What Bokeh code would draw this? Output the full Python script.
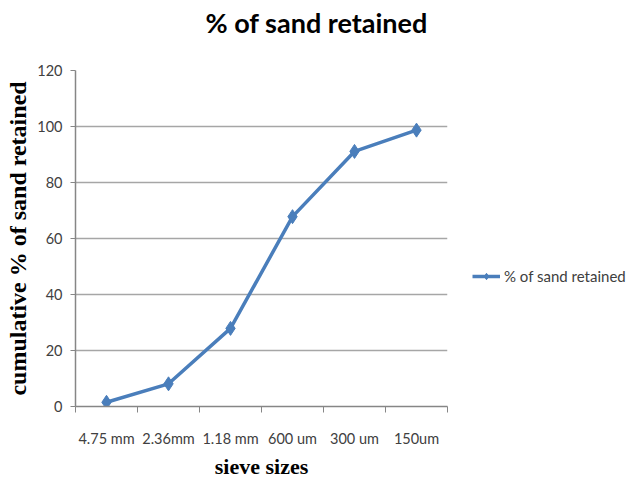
from bokeh.plotting import figure
from bokeh.models import ColumnDataSource, FixedTicker, Legend, LegendItem, Range1d, Title
from bokeh.embed import file_html
from bokeh.resources import INLINE

sieve_sizes = ["4.75 mm", "2.36mm", "1.18 mm", "600 um", "300 um", "150um"]
retained = [1.5, 8.1, 27.9, 67.8, 91.1, 98.7]
y_ticks = [0, 20, 40, 60, 80, 100, 120]

xs = [i + 0.5 for i in range(len(sieve_sizes))]
src = ColumnDataSource(data=dict(x=xs, y=retained, label=sieve_sizes))

p = figure(frame_width=372, frame_height=336, output_backend="svg", toolbar_location=None,
           x_range=Range1d(0, len(sieve_sizes)), y_range=Range1d(0, 120),
           min_border_left=75, min_border_right=0, min_border_top=70, min_border_bottom=74)
p.title.text = ""

# spacer between frame and title, then the title itself (stacked outward)
spacer = Title(text=" ", text_font_size="1px", standoff=27)
main_title = Title(text="% of sand retained", align="left", offset=130,
                   vertical_align="bottom", standoff=4, text_font="Lato",
                   text_font_style="bold", text_font_size="27px", text_color="#000000")
p.add_layout(spacer, "above")
p.add_layout(main_title, "above")

p.outline_line_color = None
p.xgrid.grid_line_color = None
p.ygrid.grid_line_color = "#a6a6a6"
p.ygrid.grid_line_width = 1.5
p.ygrid.ticker = FixedTicker(ticks=y_ticks)

# x axis: labels at category centres, ticks at category boundaries
xa = p.xaxis[0]
xa.ticker = FixedTicker(ticks=xs, minor_ticks=list(range(len(sieve_sizes) + 1)))
xa.major_label_overrides = {x: s for x, s in zip(xs, sieve_sizes)}
xa.major_tick_line_color = None
xa.major_tick_out = 0
xa.major_tick_in = 0
xa.minor_tick_line_color = "#868686"
xa.minor_tick_out = 6
xa.minor_tick_in = 0
xa.axis_line_color = "#868686"
xa.axis_line_width = 1.5
xa.major_label_standoff = 17
xa.major_label_text_font = "Lato"
xa.major_label_text_font_size = "14.5px"
xa.major_label_text_color = "#404040"
xa.axis_label = "sieve sizes"
xa.axis_label_text_font = "Liberation Serif"
xa.axis_label_text_font_style = "bold"
xa.axis_label_text_font_size = "22px"
xa.axis_label_text_color = "#000000"
xa.axis_label_standoff = 4

ya = p.yaxis[0]
ya.ticker = FixedTicker(ticks=y_ticks)
ya.minor_tick_line_color = None
ya.major_tick_line_color = "#868686"
ya.major_tick_out = 5
ya.major_tick_in = 0
ya.axis_line_color = "#868686"
ya.axis_line_width = 1.5
ya.major_label_standoff = 8
ya.major_label_text_font = "Lato"
ya.major_label_text_font_size = "14.5px"
ya.major_label_text_color = "#404040"
ya.axis_label = "cumulative % of sand retained"
ya.axis_label_text_font = "Liberation Serif"
ya.axis_label_text_font_style = "bold"
ya.axis_label_text_font_size = "24px"
ya.axis_label_text_color = "#000000"
ya.axis_label_standoff = 3

ln = p.line("x", "y", source=src, line_color="#4a7ebb", line_width=3.5)
mk = p.scatter("x", "y", source=src, marker="diamond", size=14,
               fill_color="#4a7ebb", line_color="#4a7ebb")

legend = Legend(items=[LegendItem(label="% of sand retained", renderers=[ln, mk])],
                location=(25, 121), padding=0, margin=0, border_line_color=None,
                background_fill_alpha=0, glyph_width=28, glyph_height=16,
                label_standoff=4, label_text_font="Lato", label_text_font_size="15px",
                label_text_color="#404040")
p.add_layout(legend, "right")

with open("out.html", "w") as f:
    f.write(file_html(p, INLINE))
